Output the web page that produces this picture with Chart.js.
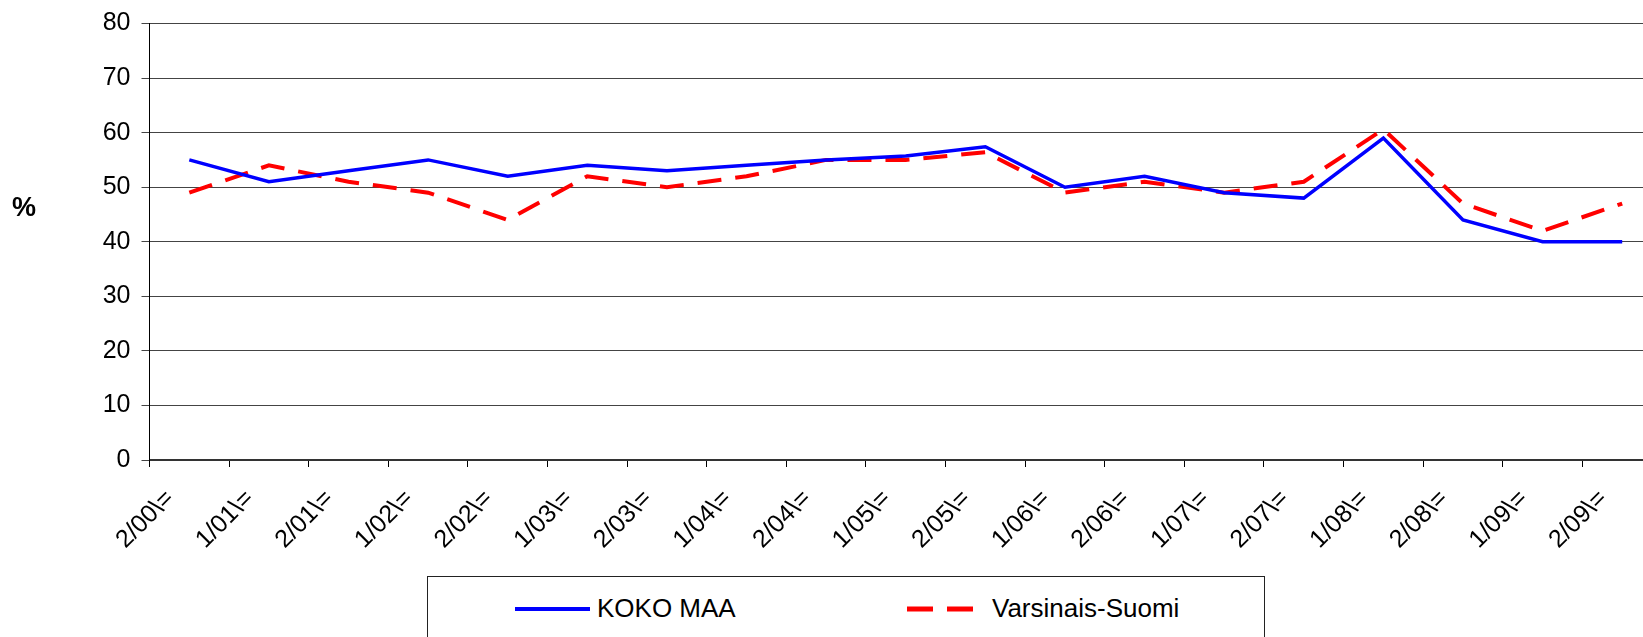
<!DOCTYPE html>
<html>
<head>
<meta charset="utf-8">
<script src="https://cdn.jsdelivr.net/npm/chart.js@4.4.1/dist/chart.umd.min.js"></script>
<style>
  html, body { margin: 0; padding: 0; background: #fff; overflow: hidden; }
  #wrap { position: relative; width: 1662px; height: 576px; }
  #yTitle { position: absolute; left: 12px; top: 192px; font: bold 27px "Liberation Sans", Arial, sans-serif; color: #000; }
  #legend { position: absolute; left: 427px; top: 576px; width: 836px; height: 80px; border: 1px solid #222; background: #fff; }
  .item { position: absolute; top: 16px; display: flex; align-items: center; font: 26px "Liberation Sans", Arial, sans-serif; color: #000; }
  .item svg { margin-right: 7px; }
</style>
</head>
<body>
<div id="wrap">
  <canvas id="chart"></canvas>
  <div id="yTitle">%</div>
</div>
<div id="legend"></div>

<script>
const labels = ["2/00\\=", "1/01\\=", "2/01\\=", "1/02\\=", "2/02\\=", "1/03\\=", "2/03\\=", "1/04\\=", "2/04\\=", "1/05\\=",
  "2/05\\=", "1/06\\=", "2/06\\=", "1/07\\=", "2/07\\=", "1/08\\=", "2/08\\=", "1/09\\=", "2/09\\="];
const kokoMaa = [55, 51, 53, 55, 52, 54, 53, 54, 55, 55.7, 57.4, 50, 52, 49, 48, 59, 44, 40, 40];
const varsinaisSuomi = [49, 54, 51, 49, 44, 52, 50, 52, 55, 55, 56.4, 49, 51, 49, 51, 60.6, 47, 42, 47];
const seriesNames = ["KOKO MAA", "Varsinais-Suomi"];
const yTicks = [0, 10, 20, 30, 40, 50, 60, 70, 80];

Chart.defaults.font.family = "'Liberation Sans', Arial, sans-serif";
Chart.defaults.color = "#000";

const ctx = document.getElementById("chart").getContext("2d");
new Chart(ctx, {
  type: "line",
  data: {
    labels,
    datasets: [{
      label: seriesNames[0],
      data: kokoMaa,
      borderColor: "#0000ff",
      borderWidth: 3.5,
      pointRadius: 0,
      tension: 0
    }, {
      label: seriesNames[1],
      data: varsinaisSuomi,
      borderColor: "#ff0000",
      borderWidth: 4,
      borderDash: [24, 14],
      pointRadius: 0,
      tension: 0
    }]
  },
  options: {
    responsive: true,
    maintainAspectRatio: false,
    animation: false,
    layout: { padding: { top: 19, right: 0, left: 0, bottom: 0 } },
    plugins: {
      legend: { display: false },
      tooltip: { enabled: false }
    },
    scales: {
      x: {
        offset: true,
        afterFit: (axis) => { axis.height = 116; },
        grid: {
          offset: true,
          drawOnChartArea: false,
          drawTicks: true,
          tickLength: 7,
          color: "#000"
        },
        border: { color: "#333", width: 2 },
        ticks: {
          minRotation: 45,
          maxRotation: 45,
          autoSkip: false,
          padding: 17,
          labelOffset: -19,
          font: { size: 25 }
        }
      },
      y: {
        min: 0,
        max: 80,
        afterFit: (axis) => { axis.width = 149.5; },
        afterBuildTicks: (axis) => { axis.ticks = yTicks.map(v => ({ value: v })); },
        grid: {
          color: "#444",
          tickLength: 8
        },
        border: { color: "#000", width: 1 },
        ticks: {
          padding: 11,
          font: { size: 25, lineHeight: 1 }
        }
      }
    }
  }
});

// legend built from the series
const legendColors = ["#0000ff", "#ff0000"];
const legendDash = ["", "26 14"];
const legendLineW = [75, 66];
const legendLeft = [87, 479];
const legend = document.getElementById("legend");
seriesNames.forEach((name, i) => {
  const item = document.createElement("div");
  item.className = "item";
  item.style.left = legendLeft[i] + "px";
  const w = legendLineW[i];
  item.innerHTML = '<svg width="' + w + '" height="8"><line x1="0" y1="4" x2="' + w + '" y2="4" stroke="' +
    legendColors[i] + '" stroke-width="' + (i ? 5 : 4) + '" stroke-dasharray="' + legendDash[i] + '"/></svg>';
  const span = document.createElement("span");
  span.textContent = name;
  item.appendChild(span);
  if (i === 1) item.querySelector("svg").style.marginRight = "19px";
  legend.appendChild(item);
});
</script>
</body>
</html>
